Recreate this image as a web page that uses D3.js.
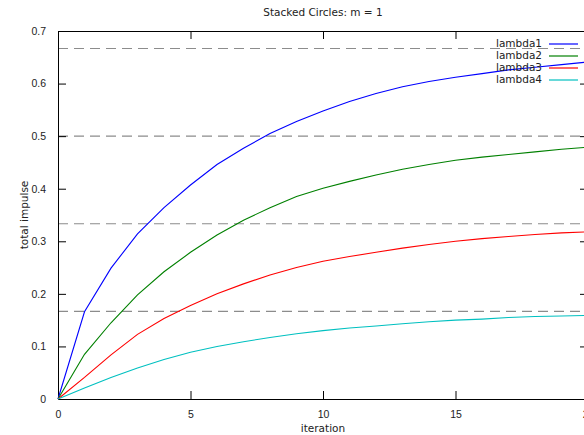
<!DOCTYPE html>
<html>
<head>
<meta charset="utf-8">
<script src="https://d3js.org/d3.v7.min.js"></script>
<style>
  body { margin: 0; background: #fff; }
  svg { display: block; font-family: "DejaVu Sans", sans-serif; }
</style>
</head>
<body>
<div id="my_dataviz"></div>
<script>
// data
const iterations = d3.range(0, 21);
const lambda1 = [0, 0.166, 0.249, 0.314, 0.364, 0.407, 0.446, 0.477, 0.505, 0.528, 0.548,
                 0.566, 0.581, 0.594, 0.604, 0.612, 0.619, 0.626, 0.631, 0.636, 0.641];
const lambda2 = [0, 0.085, 0.145, 0.198, 0.242, 0.279, 0.312, 0.340, 0.364, 0.385, 0.401,
                 0.414, 0.426, 0.437, 0.446, 0.454, 0.460, 0.465, 0.470, 0.475, 0.479];
const lambda3 = [0, 0.041, 0.084, 0.123, 0.153, 0.178, 0.200, 0.219, 0.236, 0.250, 0.262,
                 0.271, 0.279, 0.287, 0.294, 0.300, 0.305, 0.309, 0.313, 0.316, 0.318];
const lambda4 = [0, 0.021, 0.041, 0.059, 0.075, 0.089, 0.100, 0.109, 0.117, 0.124, 0.130,
                 0.135, 0.139, 0.143, 0.147, 0.150, 0.152, 0.155, 0.157, 0.158, 0.159];
const seriesNames = ["lambda1", "lambda2", "lambda3", "lambda4"];
const limits = [2/3, 1/2, 1/3, 1/6];
const xTicks = [0, 5, 10, 15, 20];
const yTicks = [0, 0.1, 0.2, 0.3, 0.4, 0.5, 0.6, 0.7];

const colors = ["#0000ff", "#008000", "#ff0000", "#00c0c0"];

const margin = {top: 31, right: -4, bottom: 36, left: 58},
    W = 584, H = 435,
    width = W - margin.left - margin.right,
    height = H - margin.top - margin.bottom;

const svg = d3.select("#my_dataviz")
  .append("svg")
    .attr("width", W)
    .attr("height", H);

const g = svg.append("g")
    .attr("transform", `translate(${margin.left},${margin.top})`);

const x = d3.scaleLinear().domain([0, 20]).range([0, width]);
const y = d3.scaleLinear().domain([0, 0.7]).range([height, 0]);

// dashed limit lines
g.selectAll(".limit")
  .data(limits)
  .join("line")
    .attr("x1", 0).attr("x2", width)
    .attr("y1", d => y(d)).attr("y2", d => y(d))
    .style("stroke", "#8c8c8c")
    .style("stroke-width", 1.2)
    .style("stroke-dasharray", "10,6");

// axes: ticks pointing inward, on all four sides
const tickFmt = d => d === 0 ? "0" : d3.format(".1f")(d);
g.append("g")
  .attr("transform", `translate(0,${height})`)
  .call(d3.axisBottom(x).tickValues(xTicks).tickSize(-8).tickPadding(12).tickFormat(d3.format("d")));
g.append("g")
  .call(d3.axisLeft(y).tickValues(yTicks).tickSize(-8).tickPadding(12).tickFormat(tickFmt));
g.append("g")
  .call(d3.axisTop(x).tickValues(xTicks).tickSize(-8).tickFormat(""));
g.append("g")
  .attr("transform", `translate(${width},0)`)
  .call(d3.axisRight(y).tickValues(yTicks).tickSize(-8).tickFormat(""));

g.selectAll(".domain").style("stroke", "#000");
g.selectAll(".tick line").style("stroke", "#000");
g.selectAll(".tick text").style("font-size", "10.5px").style("fill", "#222");

// lines
const data = [lambda1, lambda2, lambda3, lambda4];
const line = d3.line()
  .x((d, i) => x(iterations[i]))
  .y(d => y(d));

g.selectAll(".series")
  .data(data)
  .join("path")
    .attr("d", d => line(d))
    .attr("fill", "none")
    .attr("stroke", (d, i) => colors[i])
    .attr("stroke-width", 1.1);

// legend
const legend = g.append("g");
seriesNames.forEach((name, i) => {
  const ly = 13 + i * 12;
  legend.append("text")
    .attr("x", 484).attr("y", ly)
    .attr("text-anchor", "end")
    .attr("dominant-baseline", "middle")
    .style("font-size", "10.5px").style("fill", "#222")
    .text(name);
  legend.append("line")
    .attr("x1", 491).attr("x2", 520)
    .attr("y1", ly).attr("y2", ly)
    .attr("stroke", colors[i]).attr("stroke-width", 1.2);
});

// title and axis labels
svg.append("text")
  .attr("x", margin.left + width / 2).attr("y", 16)
  .attr("text-anchor", "middle")
  .style("font-size", "10.5px").style("fill", "#222")
  .text("Stacked Circles: m = 1");
svg.append("text")
  .attr("x", margin.left + width / 2).attr("y", 432)
  .attr("text-anchor", "middle")
  .style("font-size", "10.5px").style("fill", "#222")
  .text("iteration");
svg.append("text")
  .attr("transform", `translate(28,${margin.top + height / 2}) rotate(-90)`)
  .attr("text-anchor", "middle")
  .style("font-size", "10.5px").style("fill", "#222")
  .text("total impulse");
</script>
</body>
</html>
